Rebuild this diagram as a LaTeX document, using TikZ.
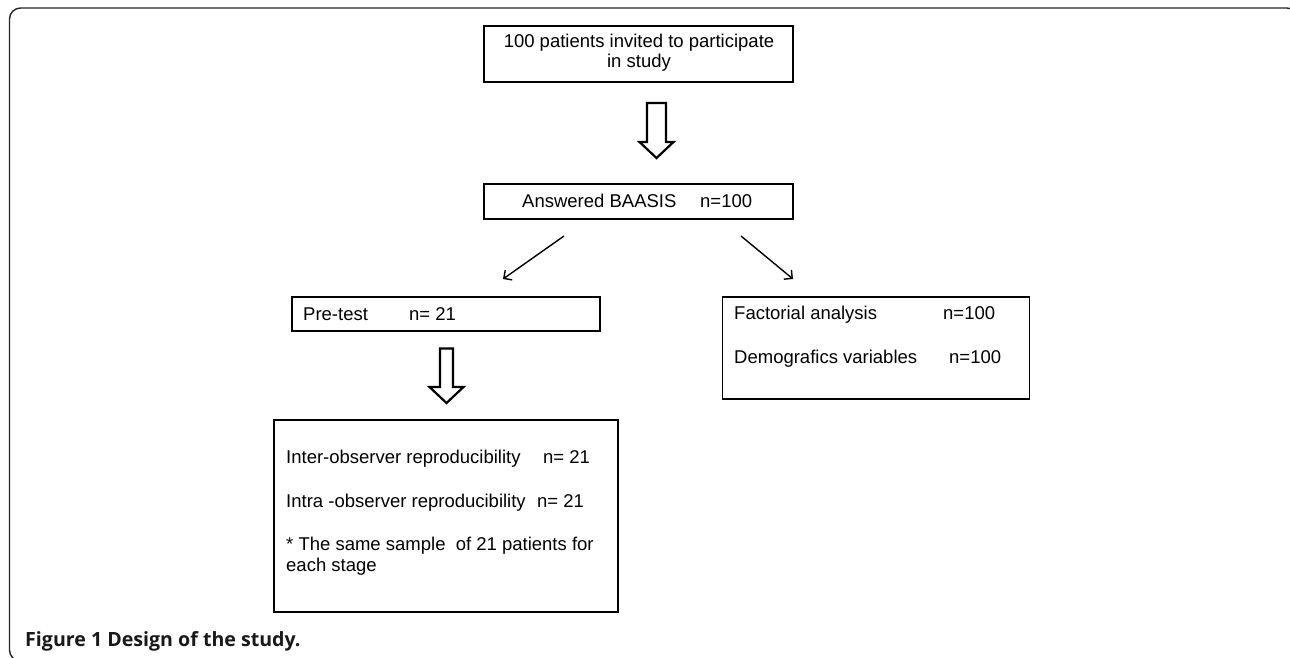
\documentclass[tikz,border=0pt]{standalone}
\usepackage{fontspec}
\setmainfont{Liberation Sans}
\newfontfamily\capfont{Open Sans}
\usetikzlibrary{arrows.meta}
\begin{document}
\begin{tikzpicture}[x=1pt,y=-1pt,
  box/.style={draw=black, line width=1.8pt, inner sep=0pt, outer sep=0pt},
  txt/.style={font=\fontsize{18.5}{21}\selectfont, inner sep=0pt, anchor=base west},
  ctxt/.style={font=\fontsize{18.5}{21}\selectfont, inner sep=0pt, anchor=base},
  hollow/.style={draw=black, line width=2.2pt, fill=white, line join=miter},
  thinarrow/.style={line width=1.4pt, -{Straight Barb[length=6pt,width=12pt,line width=1.4pt]}},
  frame/.style={draw=black!85, line width=1.4pt, rounded corners=11pt}]
\useasboundingbox (0,0) rectangle (1290,657);
\clip (0,0) rectangle (1290,657);
% outer frame
\draw[frame] (9.5,8) rectangle (1298,661);
% boxes
\node[box, anchor=north west, minimum width=309pt, minimum height=56pt] (b1) at (484,26) {};
\node[box, anchor=north west, minimum width=309pt, minimum height=35pt] (b2) at (484,184) {};
\node[box, anchor=north west, minimum width=308pt, minimum height=34pt] (b3) at (292,297) {};
\node[box, anchor=north west, minimum width=344pt, minimum height=192pt] (b4) at (274,420) {};
\node[box, anchor=north west, minimum width=307pt, minimum height=102pt] (b5) at (722.5,297) {};
% texts
\node[ctxt] (t1a) at (639,47) {100 patients invited to participate};
\node[ctxt] (t1b) at (639,67) {in study};
\node[txt] (t2a) at (522,207) {Answered BAASIS};
\node[txt] (t2b) at (700,207) {n=100};
\node[txt] (t3a) at (303,320) {Pre-test};
\node[txt] (t3b) at (409,320) {n= 21};
\node[txt] (t4a) at (286,463) {Inter-observer reproducibility};
\node[txt] (t4b) at (543,463) {n= 21};
\node[txt] (t4c) at (286,507) {Intra -observer reproducibility};
\node[txt] (t4d) at (537,507) {n= 21};
\node[txt] (t4e) at (286,550) {* The same sample\ \ of 21 patients for};
\node[txt] (t4f) at (286,571) {each stage};
\node[txt] (t5a) at (734,319) {Factorial analysis};
\node[txt] (t5b) at (943,319) {n=100};
\node[txt] (t5c) at (734,363) {Demografics variables};
\node[txt] (t5d) at (949,363) {n=100};
% hollow arrows
\draw[hollow] (647,103) -- (666,103) -- (666,142) -- (673.5,142) -- (656.5,158) -- (639.5,142) -- (647,142) -- cycle;
\draw[hollow] (440,348.5) -- (453,348.5) -- (453,387) -- (463.5,387) -- (446.5,403) -- (429.5,387) -- (440,387) -- cycle;
% diagonal arrows
\coordinate (l1) at (564,236);
\coordinate (l2) at (503,279);
\coordinate (r1) at (741,236);
\coordinate (r2) at (793,279);
\draw[thinarrow] (l1) -- (l2);
\draw[thinarrow] (r1) -- (r2);
% caption
\node[inner sep=0pt, anchor=base west, font=\capfont\bfseries\fontsize{19.6}{22}\selectfont, text=black!90] (cap) at (25,646) {Figure 1 Design of the study.};
\end{tikzpicture}
\end{document}
